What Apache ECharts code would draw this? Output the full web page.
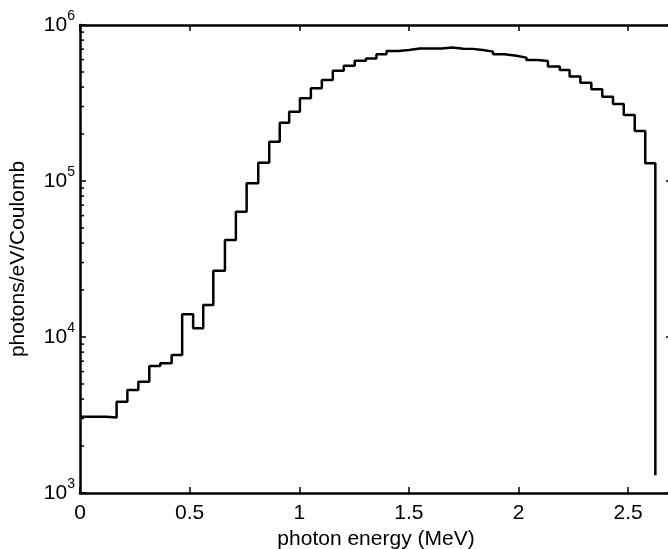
<!DOCTYPE html>
<html>
<head>
<meta charset="utf-8">
<script src="https://cdn.jsdelivr.net/npm/echarts@6/dist/echarts.min.js"></script>
<style>
html,body{margin:0;padding:0;background:#fff;}
#chart{width:668px;height:549px;}
</style>
</head>
<body>
<div id="chart"></div>
<script>
// Bin left edges (MeV) and photon yield for each bin (last point = end of final drop)
const binEdges = [0, 0.12, 0.167, 0.216, 0.266, 0.316, 0.366, 0.418, 0.466, 0.516,
  0.562, 0.608, 0.661, 0.711, 0.760, 0.813, 0.863, 0.911, 0.954, 1.003,
  1.053, 1.103, 1.153, 1.203, 1.253, 1.304, 1.352, 1.398, 1.451, 1.501,
  1.550, 1.600, 1.649, 1.699, 1.748, 1.790, 1.838, 1.884, 1.937, 1.990,
  2.036, 2.089, 2.134, 2.188, 2.233, 2.282, 2.332, 2.382, 2.431, 2.480,
  2.530, 2.578, 2.624];
const photons = [3085, 3050, 3850, 4575, 5170, 6520, 6780, 7670, 13970, 11370,
  16040, 26600, 41850, 63600, 96600, 131000, 178600, 236500, 278000, 339000,
  393000, 444000, 509000, 548000, 590000, 611000, 649000, 681000, 692000, 706000,
  708000, 708000, 718000, 705000, 703000, 692000, 675000, 650000, 635000, 618000,
  597000, 588000, 541000, 515000, 467000, 427000, 387000, 347000, 312000, 265000,
  209000, 130000, 1300];
const xTickValues = [0, 0.5, 1, 1.5, 2, 2.5];
const yMinorTicks = [2e3,3e3,4e3,5e3,6e3,7e3,8e3,9e3,
  2e4,3e4,4e4,5e4,6e4,7e4,8e4,9e4,
  2e5,3e5,4e5,5e5,6e5,7e5,8e5,9e5];
const xTitle = 'photon energy (MeV)';
const yTitle = 'photons/eV/Coulomb';

const FONT = '"Liberation Sans", Arial, sans-serif';
const lineData = binEdges.map((x, i) => [x, photons[i]]);

const chart = echarts.init(document.getElementById('chart'), null, {renderer: 'canvas'});
const axisLine = {show: true, onZero: false, lineStyle: {color: '#000', width: 2.5}};
chart.setOption({
  animation: false,
  backgroundColor: '#fff',
  grid: {left: 80, top: 25, width: 592, height: 468, containLabel: false, outerBoundsMode: 'none'},
  xAxis: [{
    type: 'value', min: 0, max: 2.7, interval: 0.5, position: 'bottom',
    axisLine: axisLine,
    axisTick: {show: true, inside: true, length: 6, lineStyle: {color: '#000', width: 1.5}},
    axisLabel: {show: true, fontSize: 21, fontFamily: FONT, color: '#000', margin: 10,
      showMaxLabel: false, formatter: v => (xTickValues.indexOf(v) >= 0 ? String(v) : '')},
    splitLine: {show: false},
    name: xTitle, nameLocation: 'middle', nameGap: 31,
    nameTextStyle: {fontSize: 21, fontFamily: FONT, color: '#000'}
  }, {
    type: 'value', min: 0, max: 2.7, interval: 0.5, position: 'top',
    axisLine: axisLine,
    axisTick: {show: true, inside: true, length: 6, lineStyle: {color: '#000', width: 1.5}},
    axisLabel: {show: false}, splitLine: {show: false}
  }],
  yAxis: [{
    type: 'log', logBase: 10, min: 1000, max: 1000000, position: 'left',
    axisLine: axisLine,
    axisTick: {show: true, inside: true, length: 6, lineStyle: {color: '#000', width: 1.5}},
    axisLabel: {
      show: true, margin: 5, fontFamily: FONT, color: '#000',
      formatter: v => '{b|10}{s|' + Math.round(Math.log10(v)) + '}',
      rich: {
        b: {fontSize: 21, fontFamily: FONT, color: '#000'},
        s: {fontSize: 14, fontFamily: FONT, color: '#000', padding: [0, 0, 18, 0]}
      }
    },
    splitLine: {show: false}, minorTick: {show: false},
    name: yTitle, nameLocation: 'middle', nameGap: 51, nameRotate: 90,
    nameTextStyle: {fontSize: 21, fontFamily: FONT, color: '#000'}
  }, {
    type: 'log', logBase: 10, min: 1000, max: 1000000, position: 'right',
    axisLine: axisLine,
    axisTick: {show: true, inside: true, length: 6, lineStyle: {color: '#000', width: 1.5}},
    axisLabel: {show: false}, splitLine: {show: false}
  }],
  series: [{
    type: 'line', xAxisIndex: 0, yAxisIndex: 0,
    step: 'end', data: lineData, showSymbol: false, symbol: 'none',
    lineStyle: {color: '#000', width: 2.5}, clip: true, z: 5
  }, {
    type: 'custom', xAxisIndex: 0, yAxisIndex: 0,
    data: yMinorTicks.map(v => [0, v]),
    renderItem: function (params, api) {
      const p = api.coord([api.value(0), api.value(1)]);
      return {type: 'line', shape: {x1: p[0], y1: p[1], x2: p[0] + 4, y2: p[1]},
        style: {stroke: '#000', lineWidth: 1.5}};
    },
    silent: true, z: 4
  }]
});
</script>
</body>
</html>
